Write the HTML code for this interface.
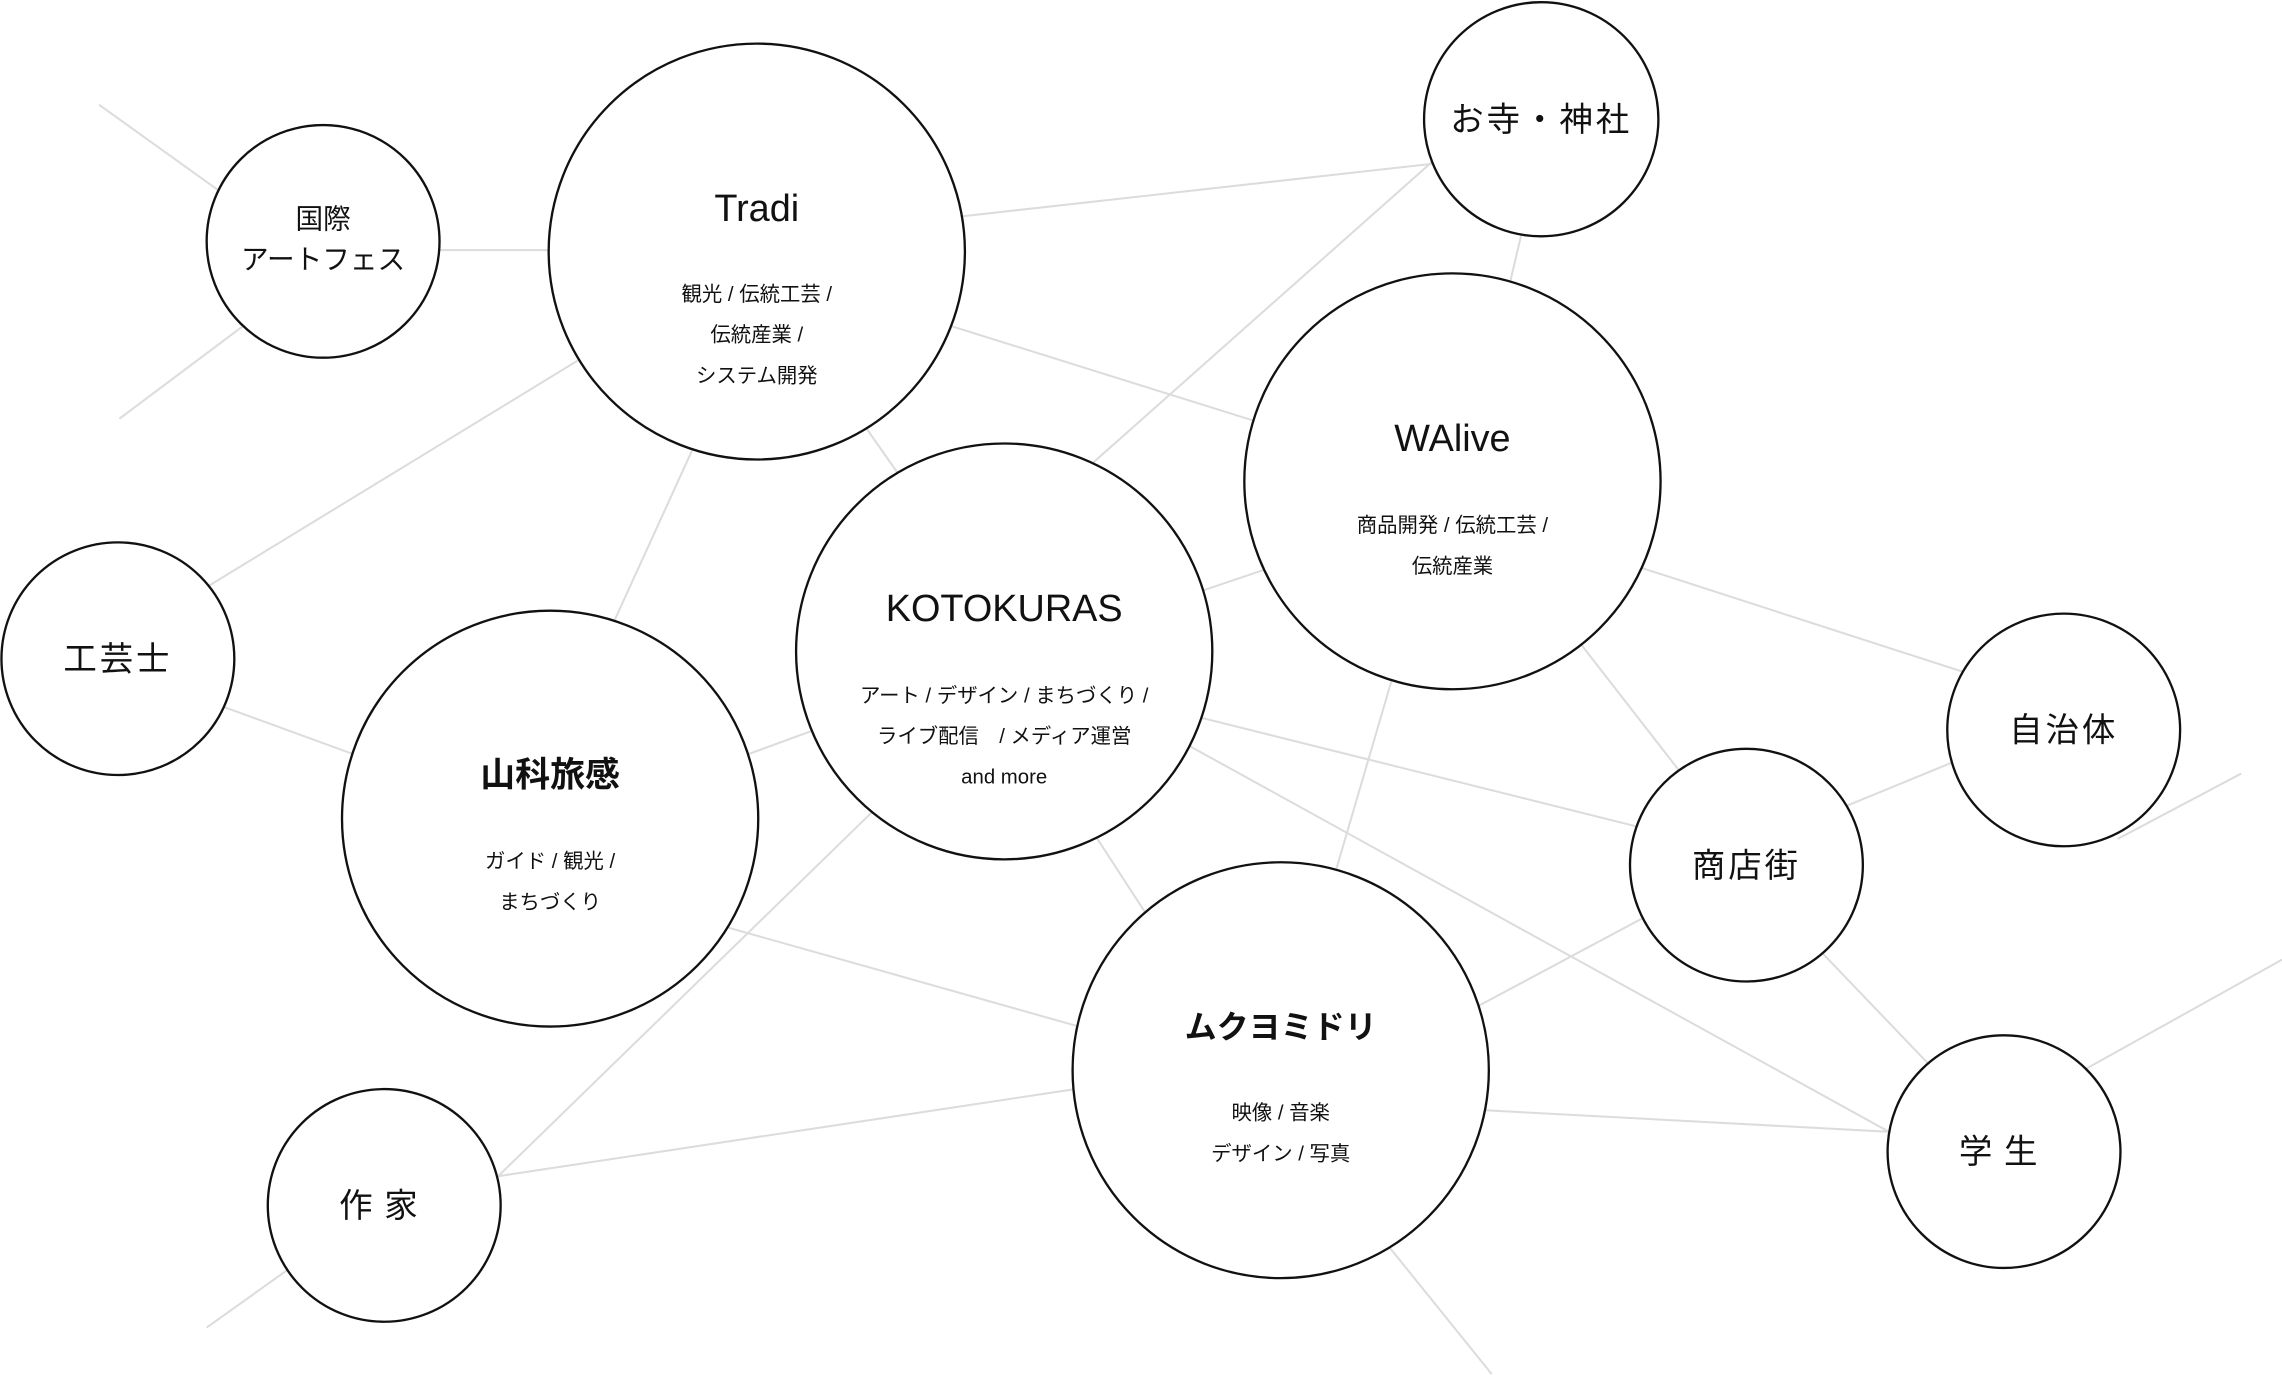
<!DOCTYPE html>
<html><head><meta charset="utf-8"><style>
html,body{margin:0;padding:0;background:#fff;}
svg{display:block;}
text{font-family:"Liberation Sans","Noto Sans CJK JP",sans-serif;fill:#111;text-anchor:middle;}
.t{font-size:26px;}
.s{font-size:14px;}
.l{font-size:23px;letter-spacing:2px;}
</style></head><body>
<svg width="2282" height="1377" viewBox="0 0 1568 947" preserveAspectRatio="none">
<g stroke="#dcdcdc" stroke-width="1.4" fill="none">
<line x1="68" y1="72" x2="160" y2="138"/>
<line x1="82" y1="288" x2="170" y2="222"/>
<line x1="290" y1="172" x2="390" y2="172"/>
<line x1="650" y1="150" x2="990" y2="112"/>
<line x1="640" y1="220" x2="870" y2="292"/>
<line x1="590" y1="287" x2="625" y2="337"/>
<line x1="410" y1="240" x2="140" y2="405"/>
<line x1="480" y1="300" x2="418" y2="436"/>
<line x1="990" y1="106" x2="740" y2="328"/>
<line x1="1048" y1="150" x2="1035" y2="205"/>
<line x1="815" y1="410" x2="880" y2="388"/>
<line x1="145" y1="483" x2="252" y2="522"/>
<line x1="505" y1="522" x2="565" y2="500"/>
<line x1="815" y1="491" x2="1135" y2="571"/>
<line x1="810" y1="509" x2="1310" y2="785"/>
<line x1="745" y1="563" x2="795" y2="640"/>
<line x1="610" y1="548" x2="335" y2="816"/>
<line x1="490" y1="635" x2="752" y2="709"/>
<line x1="960" y1="455" x2="914" y2="612"/>
<line x1="1080" y1="435" x2="1160" y2="538"/>
<line x1="1120" y1="388" x2="1358" y2="465"/>
<line x1="1262" y1="557" x2="1352" y2="520"/>
<line x1="1455" y1="577" x2="1540" y2="532"/>
<line x1="1008" y1="696" x2="1137" y2="627"/>
<line x1="1010" y1="763" x2="1310" y2="779"/>
<line x1="1245" y1="648" x2="1335" y2="742"/>
<line x1="1428" y1="738" x2="1568" y2="660"/>
<line x1="335" y1="810" x2="752" y2="747"/>
<line x1="142" y1="913" x2="205" y2="868"/>
<line x1="950" y1="852" x2="1025" y2="945"/>
</g>
<g stroke="#111" stroke-width="1.6" fill="#fff">
<circle cx="222" cy="166" r="80"/>
<circle cx="520" cy="173" r="143"/>
<circle cx="1059" cy="82" r="80.5"/>
<circle cx="998" cy="331" r="143"/>
<circle cx="690" cy="448" r="143"/>
<circle cx="81" cy="453" r="80"/>
<circle cx="378" cy="563" r="143"/>
<circle cx="1418" cy="502" r="80"/>
<circle cx="1200" cy="595" r="80"/>
<circle cx="880" cy="736" r="143"/>
<circle cx="1377" cy="792" r="80"/>
<circle cx="264" cy="829" r="80"/>
</g>
<text style="font-size:19px" x="222" y="157">国際</text>
<text style="font-size:19px" x="222" y="185">アートフェス</text>
<text class="t" x="520" y="152">Tradi</text>
<text class="s" x="520" y="207">観光 / 伝統工芸 /</text>
<text class="s" x="520" y="235">伝統産業 /</text>
<text class="s" x="520" y="263">システム開発</text>
<text class="l" x="1059" y="90">お寺・神社</text>
<text class="t" x="998" y="310">WAlive</text>
<text class="s" x="998" y="366">商品開発 / 伝統工芸 /</text>
<text class="s" x="998" y="394">伝統産業</text>
<text class="t" x="690" y="427">KOTOKURAS</text>
<text class="s" x="690" y="483">アート / デザイン / まちづくり /</text>
<text class="s" x="690" y="511">ライブ配信　/ メディア運営</text>
<text class="s" x="690" y="539">and more</text>
<text class="l" x="81" y="461">工芸士</text>
<text class="t" x="378" y="541" style="font-weight:bold;font-size:24px">山科旅感</text>
<text class="s" x="378" y="597">ガイド / 観光 /</text>
<text class="s" x="378" y="625">まちづくり</text>
<text class="l" x="1418" y="510">自治体</text>
<text class="l" x="1200" y="603">商店街</text>
<text class="t" x="880" y="714" style="font-weight:bold;font-size:22px">ムクヨミドリ</text>
<text class="s" x="880" y="770">映像 / 音楽</text>
<text class="s" x="880" y="798">デザイン / 写真</text>
<text class="l" x="1377" y="800" style="letter-spacing:8px">学生</text>
<text class="l" x="264" y="837" style="letter-spacing:8px">作家</text>
</svg>
</body></html>
